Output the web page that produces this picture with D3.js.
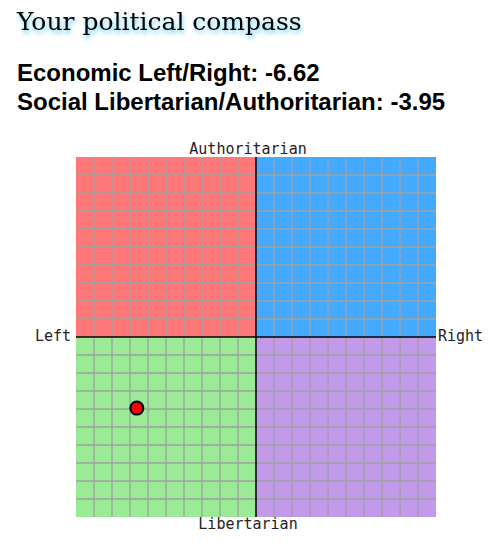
<!DOCTYPE html>
<html><head><meta charset="utf-8">
<script src="https://cdn.jsdelivr.net/npm/d3@7"></script>
<style>
body{margin:0;background:#fff}
svg text.title{font-family:"DejaVu Serif",serif;font-size:25px;font-weight:500;filter:drop-shadow(1px 3px 2px #5cd0f5)}
</style></head><body>
<script>
const econ = -6.62, social = -3.95;
const axisLabels = ["Authoritarian", "Libertarian", "Left", "Right"];
const quadColors = ["#ff7777", "#44aaff", "#9aea96", "#c19ae9"];

const svg = d3.select("body").append("svg").attr("width", 502).attr("height", 542);

svg.append("text").attr("class", "title").attr("x", 17).attr("y", 30).text("Your political compass");
svg.append("text").attr("x", 17).attr("y", 81)
    .style("font", "bold 24px 'Liberation Sans', Arial").text("Economic Left/Right: " + econ.toFixed(2));
svg.append("text").attr("x", 17).attr("y", 110)
    .style("font", "bold 24px 'Liberation Sans', Arial").text("Social Libertarian/Authoritarian: " + social.toFixed(2));

const x = d3.scaleLinear().domain([-10, 10]).range([76, 436]);
const y = d3.scaleLinear().domain([-10, 10]).range([517, 157]);

// Quadrants: [x0,x1,y0,y1]
const quads = [[-10, 0, 0, 10], [0, 10, 0, 10], [-10, 0, -10, 0], [0, 10, -10, 0]];
svg.selectAll("rect.q").data(quads).join("rect")
    .attr("x", d => x(d[0])).attr("width", d => x(d[1]) - x(d[0]))
    .attr("y", d => y(d[3])).attr("height", d => y(d[2]) - y(d[3]))
    .attr("fill", (d, i) => quadColors[i]);

const ticks = d3.range(-9, 10).filter(v => v !== 0);
const g = svg.append("g").attr("stroke", "#a0a0a0").attr("stroke-width", 1.3);
g.selectAll("line.v").data(ticks).join("line")
    .attr("x1", d => x(d)).attr("x2", d => x(d)).attr("y1", y(10)).attr("y2", y(-10));
g.selectAll("line.h").data(ticks).join("line")
    .attr("y1", d => y(d)).attr("y2", d => y(d)).attr("x1", x(-10)).attr("x2", x(10));

svg.append("line").attr("x1", x(0)).attr("x2", x(0)).attr("y1", y(10)).attr("y2", y(-10))
    .attr("stroke", "#000").attr("stroke-width", 1.5);
svg.append("line").attr("y1", y(0)).attr("y2", y(0)).attr("x1", x(-10)).attr("x2", x(10))
    .attr("stroke", "#000").attr("stroke-width", 1.5);

const lab = svg.append("g").style("font", "15px 'DejaVu Sans Mono', monospace").attr("fill", "#222");
lab.append("text").attr("x", x(0) - 8).attr("y", y(10) - 3).attr("text-anchor", "middle").text(axisLabels[0]);
lab.append("text").attr("x", x(0) - 8).attr("y", y(-10) + 12).attr("text-anchor", "middle").text(axisLabels[1]);
lab.append("text").attr("x", x(-10) - 5).attr("y", y(0) + 4).attr("text-anchor", "end").text(axisLabels[2]);
lab.append("text").attr("x", x(10) + 2).attr("y", y(0) + 4).text(axisLabels[3]);

svg.append("circle").attr("cx", x(econ)).attr("cy", y(social)).attr("r", 6.5)
    .attr("fill", "#f00").attr("stroke", "#000").attr("stroke-width", 2);
</script></body></html>
